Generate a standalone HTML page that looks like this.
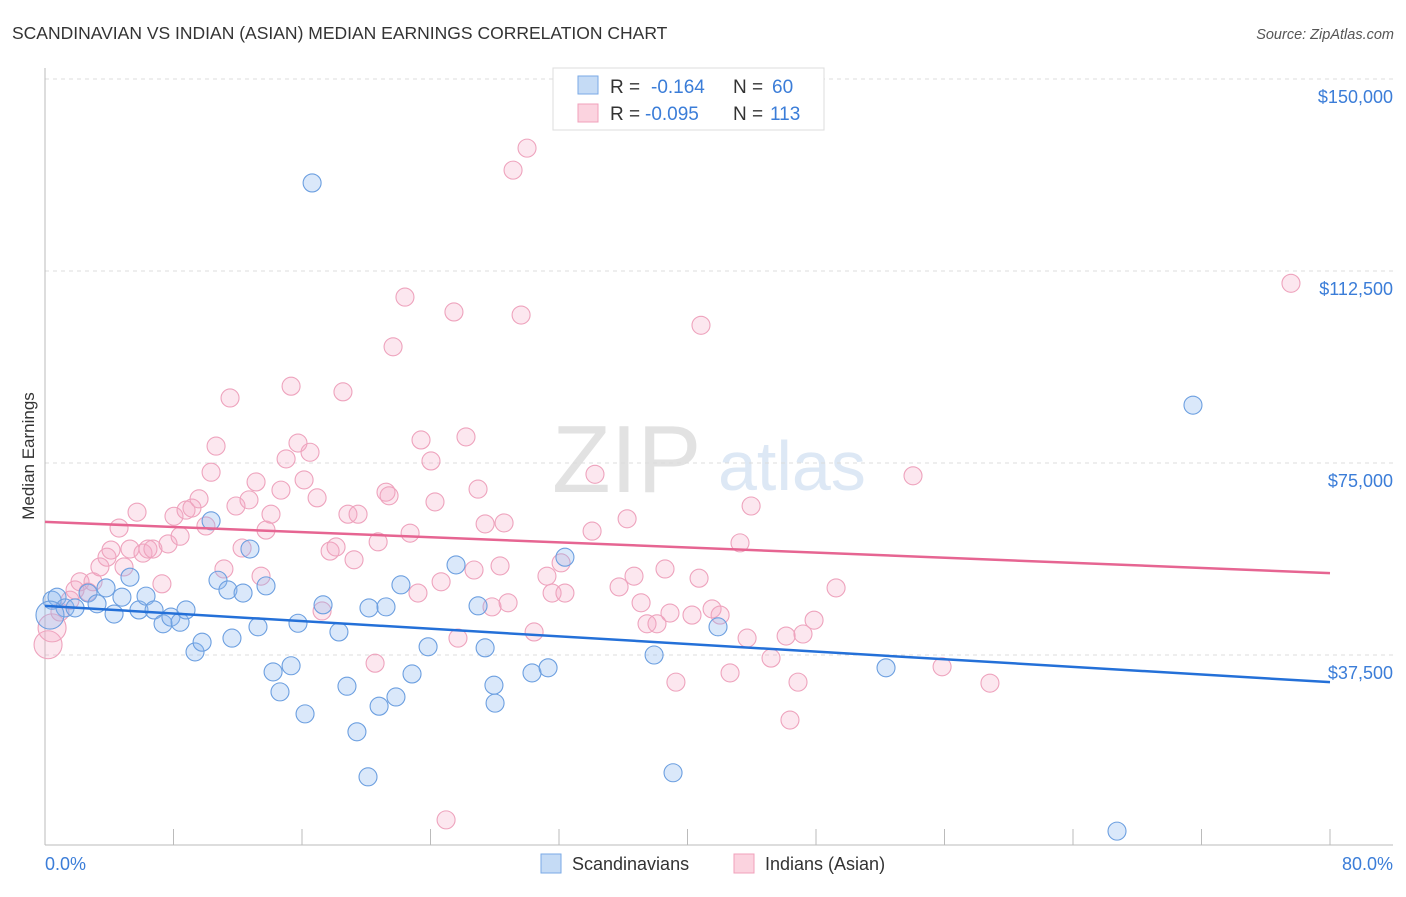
<!DOCTYPE html>
<html><head><meta charset="utf-8"><style>
body{margin:0;background:#fff;font-family:"Liberation Sans",sans-serif}
svg text{font-family:"Liberation Sans",sans-serif}
</style></head><body>
<svg id="chart" width="1406" height="892" viewBox="0 0 1406 892" xmlns="http://www.w3.org/2000/svg">
<text x="12" y="39" font-size="17.5" fill="#333">SCANDINAVIAN VS INDIAN (ASIAN) MEDIAN EARNINGS CORRELATION CHART</text>
<text x="1394" y="39" font-size="14.5" fill="#555" text-anchor="end" font-style="italic">Source: ZipAtlas.com</text>
<g>
<text x="552" y="492" font-size="96" font-family="Liberation Serif,serif" fill="#e2e2e2">ZIP</text>
<text x="718" y="490" font-size="70" fill="#dde8f5">atlas</text>
</g>
<g id="grid"></g>
<g id="axes"></g>
<g id="pts"></g>
<g id="trends"></g>
<text transform="translate(34,456) rotate(-90)" font-size="17" fill="#333" text-anchor="middle">Median Earnings</text>
<text x="45" y="870" font-size="18" fill="#3b7dd8">0.0%</text>
<text x="1393" y="870" font-size="18" fill="#3b7dd8" text-anchor="end">80.0%</text>
<g>
<rect x="553" y="68" width="271" height="62" fill="#fff" stroke="#ddd"/>
<rect x="578" y="76" width="20" height="18" fill="#c5dbf5" stroke="#7aa9e6"/>
<rect x="578" y="104" width="20" height="18" fill="#fbd3df" stroke="#f0a0bb"/>
<text x="610" y="93" font-size="19" fill="#333">R =</text>
<text x="651" y="93" font-size="19" fill="#3b7dd8">-0.164</text>
<text x="733" y="93" font-size="19" fill="#333">N =</text>
<text x="772" y="93" font-size="19" fill="#3b7dd8">60</text>
<text x="610" y="120" font-size="19" fill="#333">R =</text>
<text x="645" y="120" font-size="19" fill="#3b7dd8">-0.095</text>
<text x="733" y="120" font-size="19" fill="#333">N =</text>
<text x="770" y="120" font-size="19" fill="#3b7dd8">113</text>
</g>
<g>
<rect x="541" y="854" width="20" height="19" fill="#c5dbf5" stroke="#7aa9e6"/>
<text x="572" y="870" font-size="18" fill="#333">Scandinavians</text>
<rect x="734" y="854" width="20" height="19" fill="#fbd3df" stroke="#f0a0bb"/>
<text x="765" y="870" font-size="18" fill="#333">Indians (Asian)</text>
</g>
</svg>
<script>
const yTicks=[37500,75000,112500,150000];
const yTickLabels=["$37,500","$75,000","$112,500","$150,000"];
const xTicks=[0,8,16,24,32,40,48,56,64,72,80];
const blueX=[0.44,0.75,1.25,1.87,2.68,3.24,3.80,4.30,4.79,5.29,5.85,6.29,6.79,7.35,7.84,8.41,8.78,9.34,9.78,10.34,10.77,11.39,11.64,12.33,12.76,13.26,13.76,14.20,14.63,15.32,15.75,16.19,16.63,17.31,18.30,18.80,19.42,20.11,20.17,20.80,21.23,21.85,22.16,22.85,23.85,25.59,26.96,27.40,27.95,28.02,30.32,31.32,32.37,37.92,39.10,41.90,52.36,66.74,71.47,0.31];
const blueY=[48.2,48.8,46.7,46.7,49.6,47.5,50.6,45.5,48.8,52.7,46.3,49.0,46.3,43.6,44.9,43.9,46.3,38.1,40.0,63.7,52.1,50.2,40.8,49.6,58.2,43.0,51.0,34.2,30.3,35.4,43.7,26.0,129.7,47.3,42.0,31.4,22.5,13.7,46.7,27.5,46.9,29.3,51.2,33.8,39.1,55.1,47.1,38.9,31.6,28.1,34.0,35.0,56.6,37.5,14.5,43.0,35.0,3.1,86.3,45.3];
const pinkX=[0.19,0.44,0.93,1.56,1.87,2.18,2.68,2.99,3.42,3.86,4.11,4.61,4.92,5.29,5.73,6.10,6.41,6.72,7.28,7.66,8.03,8.41,8.78,9.15,9.59,10.02,10.34,10.65,11.14,11.52,11.89,12.27,12.70,13.14,13.45,13.76,14.07,14.69,15.01,15.32,15.75,16.13,16.50,16.94,17.25,17.75,18.12,18.55,18.86,19.24,19.49,20.55,20.74,21.23,21.42,21.67,22.41,22.73,23.22,23.41,24.03,24.28,24.66,24.97,25.46,25.71,26.21,26.71,26.96,27.40,27.83,28.33,28.58,28.83,29.14,29.64,30.01,30.45,31.25,31.57,32.13,32.37,34.06,34.24,35.74,36.24,36.67,37.11,37.48,38.10,38.60,38.91,39.28,40.28,40.72,40.84,41.53,42.03,42.65,43.27,43.71,43.96,45.20,46.14,46.38,46.88,47.19,47.88,49.25,54.04,55.85,58.83,77.57];
const pinkY=[39.5,42.8,45.9,48.2,50.2,51.8,49.8,51.8,54.7,56.6,58.0,62.3,54.7,58.2,65.4,57.4,58.2,58.2,51.4,59.2,64.6,60.7,65.8,66.2,68.0,62.7,73.2,78.3,54.3,87.7,66.6,58.4,67.8,71.3,52.9,61.9,65.0,69.7,75.8,90.0,78.9,71.7,77.1,68.2,46.1,57.8,58.6,88.9,65.0,56.1,65.0,35.9,59.6,69.3,68.6,97.7,107.4,61.3,49.6,79.5,75.4,67.4,51.8,5.3,104.5,40.8,80.1,54.1,69.9,63.1,46.9,54.9,63.3,47.7,132.2,103.9,136.5,42.0,52.9,49.6,55.5,49.6,61.7,72.8,50.8,64.1,52.9,47.7,43.6,43.6,54.3,45.7,32.2,45.3,52.5,101.9,46.5,45.3,34.0,59.4,40.8,66.6,36.9,41.2,24.8,32.2,41.6,44.3,50.6,72.5,35.2,32.0,110.1];
const blueTrend=[47.1,32.2];
const pinkTrend=[63.5,53.5];
const NS="http://www.w3.org/2000/svg";
const X0=45,X1=1330,Y0=847,PX=192/37.5;
function sx(v){return X0+(v/80)*(X1-X0);}
function sy(k){return Y0-k*PX;}
function mk(tag,attrs,parent){const e=document.createElementNS(NS,tag);for(const k in attrs)e.setAttribute(k,attrs[k]);parent.appendChild(e);return e;}
const grid=document.getElementById('grid'),axes=document.getElementById('axes'),pts=document.getElementById('pts'),tr=document.getElementById('trends');
yTicks.forEach((t,i)=>{const y=sy(t/1000);
 const l=mk('line',{x1:45,x2:1393,y1:y,y2:y,stroke:'#dcdcdc','stroke-dasharray':'4,4'},grid);
 
 
 const tx=mk('text',{x:1393,y:y+24,'font-size':18,fill:'#3b7dd8','text-anchor':'end'},grid);
 tx.textContent=yTickLabels[i];
 
 
});
const ya=mk('line',{x1:45,x2:45,y1:68,y2:845,stroke:'#bbb'},axes);


const xa=mk('line',{x1:45,x2:1393,y1:845,y2:845,stroke:'#bbb'},axes);


xTicks.forEach(t=>{const x=sx(t);const l=mk('line',{x1:x,x2:x,y1:829,y2:845,stroke:'#bbb'},axes);
 
 });
function series(xs,ys,fill,stroke,name){xs.forEach((v,i)=>{const r=(v<0.5&&i>=xs.length-1)||(name==='pink-point'&&i<2)?14:9;
 const c=mk('circle',{cx:sx(v),cy:sy(ys[i]),r:r,fill:fill,stroke:stroke,'stroke-width':1.1},pts);
 
 });}
series(pinkX,pinkY,'rgba(246,170,196,0.28)','#eea3bd','pink-point');
series(blueX,blueY,'rgba(140,185,240,0.32)','#6c9fe0','blue-point');
const bl=mk('line',{x1:sx(0),y1:sy(blueTrend[0]),x2:sx(80),y2:sy(blueTrend[1]),stroke:'#2470d8','stroke-width':2.5},tr);


const pl=mk('line',{x1:sx(0),y1:sy(pinkTrend[0]),x2:sx(80),y2:sy(pinkTrend[1]),stroke:'#e66592','stroke-width':2.5},tr);


</script>
</body></html>
